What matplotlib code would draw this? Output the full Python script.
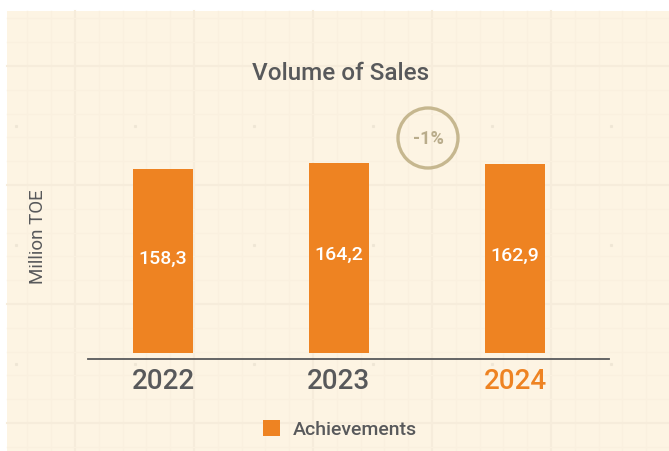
import numpy as np
import matplotlib
matplotlib.use('Agg')
import matplotlib.pyplot as plt
from matplotlib.patches import Rectangle, Circle

plt.rcParams['font.family'] = ['Roboto', 'DejaVu Sans']

years = ['2022', '2023', '2024']
values = [158.3, 164.2, 162.9]
labels = ['158,3', '164,2', '162,9']
change = '-1%'

orange = '#EE8322'
grey = '#58595B'
cream = '#FDF4E3'

fig = plt.figure(figsize=(6.69, 4.52), dpi=100)
fig.patch.set_facecolor('white')

# background panel with the faint grid paper, in pixel coords
bg = fig.add_axes([0, 0, 1, 1], zorder=-1)
bg.set_xlim(0, 669)
bg.set_ylim(452, 0)
bg.axis('off')
bg.add_patch(Rectangle((7, 12), 662, 440, color=cream, lw=0))
step = 23.8
xs = 75 + step * np.arange(-2, 25)
ys = 67 + step * np.arange(-2, 17)
for i, x in enumerate(xs):
    if 7 < x < 669:
        major = (i - 2) % 5 == 0
        bg.plot([x, x], [12, 452], color='#F6ECDB' if major else '#FAF0DF',
                lw=1.5 if major else 1.0, zorder=1)
for i, y in enumerate(ys):
    if 12 < y < 452:
        major = (i - 2) % 5 == 0
        bg.plot([7, 669], [y, y], color='#F6ECDB' if major else '#FAF0DF',
                lw=1.5 if major else 1.0, zorder=1)
mx = 75 + 119 * np.arange(-1, 6) - 59.5
my = 67 + 119 * np.arange(0, 4) + 59.5
for x in mx:
    for y in my:
        if 7 < x < 669 and y < 452:
            bg.plot(x, y, 's', ms=1.2, color='#EFE6D5', zorder=2)

# -1% badge
bg.add_patch(Circle((428, 139), 30, fill=False, ec='#C6B78F', lw=2.4, zorder=3))
bg.text(428, 139, change, ha='center', va='center', fontsize=13,
        fontweight='bold', color='#B9AC8B', zorder=4)

# main bar axes
ax = fig.add_axes([88 / 669, 1 - 360 / 452, 521 / 669, 260 / 452])
ax.patch.set_alpha(0)
x = np.arange(len(years))
bars = ax.bar(x, values, width=0.341, color=orange, zorder=3)
ax.set_xlim(-0.426, 2.534)
ax.set_ylim(-5.44, 219.1)
for b, lab in zip(bars, labels):
    ax.text(b.get_x() + b.get_width() / 2, b.get_height() * 0.52, lab,
            ha='center', va='center', color='white', fontsize=14,
            fontweight='medium', zorder=4)

ax.set_xticks(x)
ax.set_xticklabels(years, fontsize=20, color=grey, fontweight='medium')
ax.get_xticklabels()[-1].set_color(orange)
ax.tick_params(axis='x', length=0, pad=6)
ax.set_yticks([])
for s in ['top', 'right', 'left']:
    ax.spines[s].set_visible(False)
ax.spines['bottom'].set_color(grey)
ax.spines['bottom'].set_linewidth(1.3)

fig.text(341 / 669, 1 - 73 / 452, 'Volume of Sales', ha='center', va='center',
         fontsize=17.5, fontweight='medium', color=grey)
fig.text(38 / 669, 1 - 237 / 452, 'Million TOE', rotation=90, ha='center',
         va='center', fontsize=13.5, color=grey)

leg = fig.legend([bars[0]], ['Achievements'], loc='center',
                 bbox_to_anchor=(340 / 669, 1 - 430 / 452), frameon=False,
                 fontsize=14, handlelength=0.9, handleheight=0.9,
                 handletextpad=0.65)
for t in leg.get_texts():
    t.set_color(grey)
    t.set_fontweight('medium')

plt.savefig('out.png', dpi=100, facecolor=fig.get_facecolor())
